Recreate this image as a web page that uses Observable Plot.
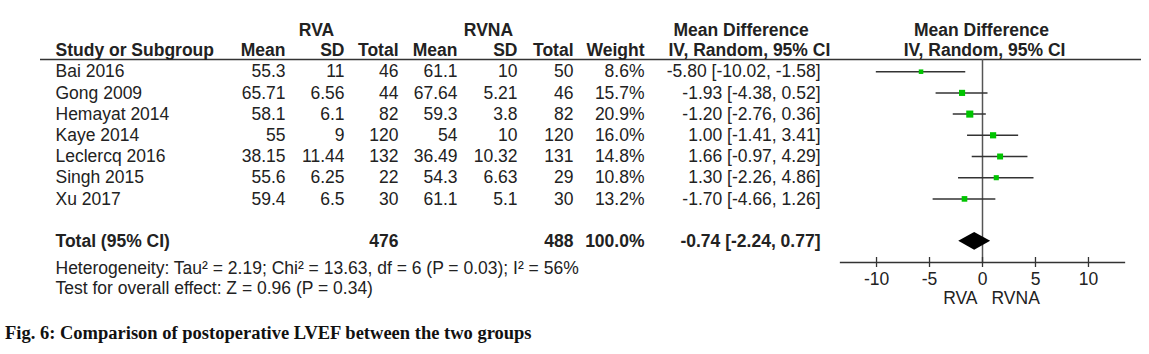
<!DOCTYPE html>
<html>
<head>
<meta charset="utf-8">
<script src="https://cdn.jsdelivr.net/npm/d3@7"></script>
<script src="https://cdn.jsdelivr.net/npm/@observablehq/plot@0.6"></script>
<style>
  body { margin: 0; background: #fff; }
  #chart svg { display: block; }
  #caption { font-family: "Liberation Serif", "Times New Roman", serif; font-weight: bold; font-size: 18.5px; color: #111; padding-left: 5px; margin-top: 7px; line-height: 22px; }
</style>
</head>
<body>
<div id="chart"></div>
<div id="caption">Fig. 6: Comparison of postoperative LVEF between the two groups</div>
<script>
// ---- data ----
const studies = ["Bai 2016", "Gong 2009", "Hemayat 2014", "Kaye 2014", "Leclercq 2016", "Singh 2015", "Xu 2017"];
const rvaMean = [55.3, 65.71, 58.1, 55, 38.15, 55.6, 59.4];
const rvaSD = [11, 6.56, 6.1, 9, 11.44, 6.25, 6.5];
const rvaTotal = [46, 44, 82, 120, 132, 22, 30];
const rvnaMean = [61.1, 67.64, 59.3, 54, 36.49, 54.3, 61.1];
const rvnaSD = [10, 5.21, 3.8, 10, 10.32, 6.63, 5.1];
const rvnaTotal = [50, 46, 82, 120, 131, 29, 30];
const weight = [8.6, 15.7, 20.9, 16.0, 14.8, 10.8, 13.2];
const md = [-5.80, -1.93, -1.20, 1.00, 1.66, 1.30, -1.70];
const ciLow = [-10.02, -4.38, -2.76, -1.41, -0.97, -2.26, -4.66];
const ciHigh = [-1.58, 0.52, 0.36, 3.41, 4.29, 4.86, 1.26];
const totalRVA = 476, totalRVNA = 488, totalWeight = 100.0;
const totalMD = -0.74, totalLow = -2.24, totalHigh = 0.77;
const heterogeneity = "Heterogeneity: Tau² = 2.19; Chi² = 13.63, df = 6 (P = 0.03); I² = 56%";
const overall = "Test for overall effect: Z = 0.96 (P = 0.34)";
const xTicks = [-10, -5, 0, 5, 10];
const groupLeft = "RVA", groupRight = "RVNA";

// ---- layout ----
const W = 1149, H = 315;
const mL = 840, mR = 25, mT = 59, mB = H - 262;
const frameH = H - mT - mB;
const ink = "#222";
const FS = 17.5;
const colX = { study: 55, m1: 285, s1: 344, t1: 398, m2: 457, s2: 517, t2: 573, w: 644, ci: 820 };
const dxOf = px => px - mL;

const rows = studies.map((s, i) => ({
  i, study: s,
  m1: String(rvaMean[i]), s1: String(rvaSD[i]), t1: String(rvaTotal[i]),
  m2: String(rvnaMean[i]), s2: String(rvnaSD[i]), t2: String(rvnaTotal[i]),
  w: weight[i].toFixed(1) + "%", weight: weight[i],
  ci: `${md[i].toFixed(2)} [${ciLow[i].toFixed(2)}, ${ciHigh[i].toFixed(2)}]`,
  md: md[i], lo: ciLow[i], hi: ciHigh[i]
}));
const totalIdx = studies.length + 1;
const dh = 0.42;
const diamond = [
  { x: totalLow, y1: totalIdx, y2: totalIdx },
  { x: totalMD, y1: totalIdx - dh, y2: totalIdx + dh },
  { x: totalHigh, y1: totalIdx, y2: totalIdx }
];

function col(key, anchor, extra = {}) {
  return Plot.text(rows, { y: "i", text: key, frameAnchor: "left", dx: dxOf(colX[key]), textAnchor: anchor, fill: ink, ...extra });
}
function label(txt, px, idx, anchor, extra = {}) {
  return Plot.text([txt], { y: () => idx, text: d => d, frameAnchor: "left", dx: dxOf(px), textAnchor: anchor, fill: ink, ...extra });
}
const B = { fontWeight: "bold" };

const chart = Plot.plot({
  width: W, height: H,
  marginLeft: mL, marginRight: mR, marginTop: mT, marginBottom: mB,
  style: { fontFamily: "'Liberation Sans', Arial, sans-serif", fontSize: FS + "px", color: ink, background: "#fff" },
  x: { domain: [-13.4, 13.4] },
  y: { domain: [-0.575, 9], reverse: true, axis: null },
  r: { type: "sqrt", range: [0, 4] },
  marks: [
    Plot.ruleY([-0.575], { stroke: "#333", strokeWidth: 1.3, insetLeft: -(mL - 40), insetRight: -(1141 - (W - mR)) }),
    label(groupLeft, 316, -1.97, "middle", B),
    label(groupRight, 488, -1.97, "middle", B),
    label("Mean Difference", 673, -1.97, "start", B),
    label("Mean Difference", 981, -1.97, "middle", B),
    label("Study or Subgroup", colX.study, -1.02, "start", B),
    label("Mean", colX.m1, -1.02, "end", B),
    label("SD", colX.s1, -1.02, "end", B),
    label("Total", colX.t1, -1.02, "end", B),
    label("Mean", colX.m2, -1.02, "end", B),
    label("SD", colX.s2, -1.02, "end", B),
    label("Total", colX.t2, -1.02, "end", B),
    label("Weight", colX.w, -1.02, "end", B),
    label("IV, Random, 95% CI", 668, -1.02, "start", B),
    label("IV, Random, 95% CI", 984, -1.02, "middle", B),
    col("study", "start"),
    col("m1", "end"), col("s1", "end"), col("t1", "end"),
    col("m2", "end"), col("s2", "end"), col("t2", "end"),
    col("w", "end"), col("ci", "end"),
    label("Total (95% CI)", colX.study, totalIdx, "start", B),
    label(String(totalRVA), colX.t1, totalIdx, "end", B),
    label(String(totalRVNA), colX.t2, totalIdx, "end", B),
    label(totalWeight.toFixed(1) + "%", colX.w, totalIdx, "end", B),
    label(`${totalMD.toFixed(2)} [${totalLow.toFixed(2)}, ${totalHigh.toFixed(2)}]`, colX.ci, totalIdx, "end", B),
    Plot.text([heterogeneity], { text: d => d, frameAnchor: "bottom-left", lineAnchor: "middle", dx: dxOf(colX.study), dy: 6, textAnchor: "start", fill: ink }),
    Plot.text([overall], { text: d => d, frameAnchor: "bottom-left", lineAnchor: "middle", dx: dxOf(colX.study), dy: 26, textAnchor: "start", fill: ink }),
    Plot.ruleX([0], { stroke: "#555", strokeWidth: 1.5 }),
    Plot.ruleY(rows, { y: "i", x1: "lo", x2: "hi", stroke: "#333", strokeWidth: 1.5 }),
    Plot.dot(rows, { x: "md", y: "i", r: "weight", symbol: "square", fill: "#00c400", stroke: "none" }),
    Plot.areaY(diamond, { x: "x", y1: "y1", y2: "y2", fill: "#000", curve: "linear" }),
    Plot.frame({ anchor: "bottom", stroke: "#333", strokeWidth: 1.3 }),
    Plot.tickX(xTicks, { x: d => d, insetTop: frameH - 5, stroke: "#333", strokeWidth: 1.3 }),
    Plot.axisX({ ticks: xTicks, tickFormat: d => String(d), tickSize: 5, tickPadding: 5, fontSize: FS, fill: ink, stroke: "#333", strokeWidth: 1.3 }),
    Plot.text([groupLeft], { x: () => 0, text: d => d, frameAnchor: "bottom", lineAnchor: "middle", dy: 36, dx: -5, textAnchor: "end", fill: ink }),
    Plot.text([groupRight], { x: () => 0, text: d => d, frameAnchor: "bottom", lineAnchor: "middle", dy: 36, dx: 9, textAnchor: "start", fill: ink })
  ]
});
document.getElementById("chart").appendChild(chart);
</script>
</body>
</html>
